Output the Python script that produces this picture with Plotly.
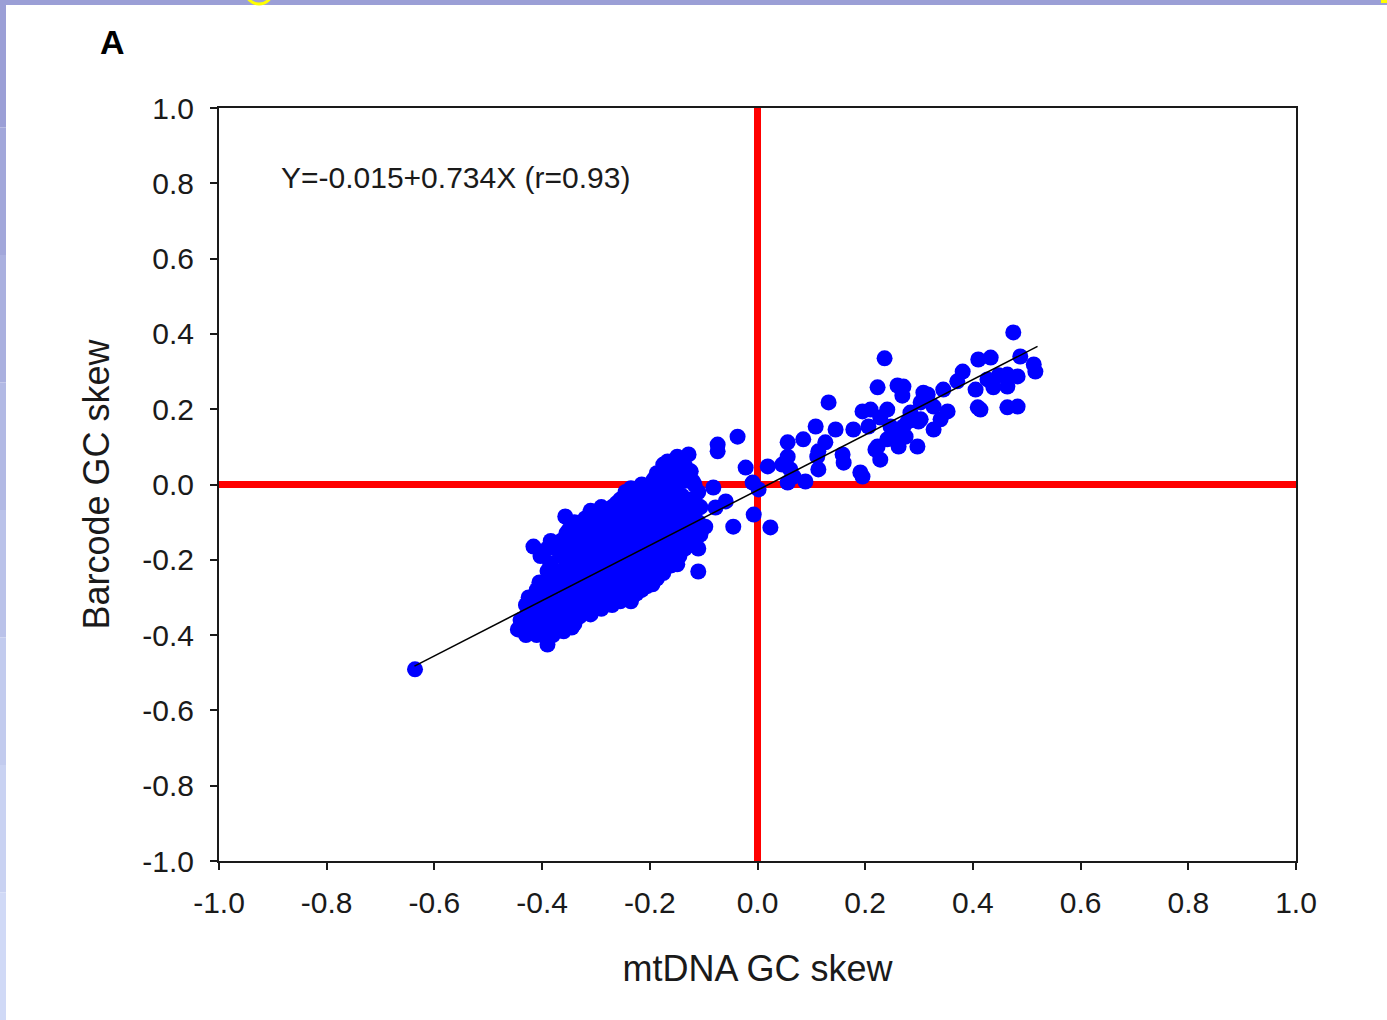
import plotly.graph_objects as go

# ---------------- data ----------------
# negative cluster (mtDNA GC skew, Barcode GC skew)
neg_x = [-0.445, -0.44,
         -0.416, -0.425, -0.42, -0.425, -0.43,
         -0.403, -0.405, -0.40, -0.40, -0.40, -0.41, -0.39,
         -0.384, -0.385, -0.38, -0.385, -0.38, -0.385, -0.38,
         -0.365, -0.365, -0.36, -0.365, -0.36, -0.365, -0.36,
         -0.357, -0.35, -0.355, -0.35, -0.345, -0.35, -0.345, -0.35, -0.345,
         -0.33, -0.33, -0.325, -0.33, -0.325, -0.33, -0.33,
         -0.31, -0.31, -0.305, -0.31, -0.31, -0.305, -0.31, -0.31,
         -0.29, -0.29, -0.29, -0.285, -0.29, -0.29, -0.285, -0.29,
         -0.27, -0.27, -0.275, -0.27, -0.27, -0.27, -0.27, -0.27,
         -0.255, -0.255, -0.25, -0.255, -0.25, -0.255, -0.25, -0.255,
         -0.235, -0.235, -0.235, -0.23, -0.235, -0.23, -0.235, -0.23, -0.235,
         -0.215, -0.215, -0.22, -0.215, -0.215, -0.21, -0.215, -0.215,
         -0.193, -0.195, -0.195, -0.20, -0.195, -0.195, -0.19, -0.195,
         -0.175, -0.18, -0.18, -0.18, -0.175, -0.18, -0.18, -0.175,
         -0.167, -0.16, -0.16, -0.16, -0.16, -0.155, -0.16, -0.16,
         -0.149, -0.145, -0.14, -0.145, -0.145, -0.14, -0.145, -0.149,
         -0.128, -0.124, -0.12, -0.125, -0.125, -0.12, -0.125,
         -0.11, -0.106, -0.11, -0.106, -0.11, -0.110, -0.097]
neg_y = [-0.385, -0.36,
         -0.165, -0.30, -0.33, -0.37, -0.40,
         -0.19, -0.26, -0.29, -0.33, -0.37, -0.40, -0.425,
         -0.15, -0.21, -0.25, -0.29, -0.33, -0.37, -0.40,
         -0.15, -0.19, -0.23, -0.27, -0.31, -0.35, -0.39,
         -0.085, -0.12, -0.16, -0.20, -0.24, -0.28, -0.32, -0.36, -0.38,
         -0.11, -0.15, -0.19, -0.23, -0.27, -0.31, -0.35,
         -0.07, -0.11, -0.15, -0.19, -0.23, -0.27, -0.31, -0.345,
         -0.06, -0.10, -0.14, -0.18, -0.22, -0.26, -0.30, -0.33,
         -0.06, -0.10, -0.14, -0.18, -0.22, -0.26, -0.30, -0.32,
         -0.04, -0.08, -0.12, -0.16, -0.20, -0.24, -0.28, -0.31,
         -0.01, -0.04, -0.08, -0.12, -0.16, -0.20, -0.24, -0.28, -0.31,
         0.00, -0.04, -0.08, -0.12, -0.16, -0.20, -0.24, -0.28,
         0.013, -0.03, -0.07, -0.11, -0.15, -0.19, -0.23, -0.265,
         0.053, 0.01, -0.03, -0.07, -0.11, -0.15, -0.19, -0.235,
         0.061, 0.02, -0.03, -0.07, -0.11, -0.15, -0.19, -0.215,
         0.074, 0.03, -0.03, -0.07, -0.11, -0.15, -0.19, -0.212,
         0.080, 0.035, 0.008, -0.04, -0.08, -0.12, -0.16,
         -0.02, -0.06, -0.10, -0.133, -0.17, -0.231, -0.112]

# further points inside the dense negative cluster
dense_x = [-0.43, -0.43, -0.43,
           -0.41, -0.41, -0.41, -0.41,
           -0.39, -0.39, -0.39, -0.39, -0.39, -0.39, -0.39,
           -0.375, -0.375, -0.375, -0.375, -0.375, -0.375,
           -0.355, -0.355, -0.355, -0.355, -0.355, -0.355, -0.355,
           -0.34, -0.34, -0.34, -0.34, -0.34, -0.34, -0.34, -0.34,
           -0.32, -0.32, -0.32, -0.32, -0.32, -0.32, -0.32,
           -0.30, -0.30, -0.30, -0.30, -0.30, -0.30, -0.30,
           -0.28, -0.28, -0.28, -0.28, -0.28, -0.28, -0.28,
           -0.262, -0.262, -0.262, -0.262, -0.262, -0.262, -0.262, -0.262,
           -0.245, -0.245, -0.245, -0.245, -0.245, -0.245, -0.245, -0.245,
           -0.225, -0.225, -0.225, -0.225, -0.225, -0.225, -0.225, -0.225,
           -0.205, -0.205, -0.205, -0.205, -0.205, -0.205, -0.205, -0.205,
           -0.187, -0.187, -0.187, -0.187, -0.187, -0.187, -0.187, -0.187,
           -0.17, -0.17, -0.17, -0.17, -0.17, -0.17, -0.17,
           -0.152, -0.152, -0.152, -0.152, -0.152, -0.152, -0.152,
           -0.135, -0.135, -0.135, -0.135, -0.135, -0.135,
           -0.117, -0.117, -0.117, -0.117, -0.117]
dense_y = [-0.32, -0.35, -0.38,
           -0.28, -0.31, -0.35, -0.39,
           -0.17, -0.23, -0.27, -0.31, -0.35, -0.39, -0.41,
           -0.17, -0.23, -0.27, -0.31, -0.35, -0.385,
           -0.13, -0.17, -0.21, -0.25, -0.29, -0.33, -0.37,
           -0.10, -0.14, -0.18, -0.22, -0.26, -0.30, -0.34, -0.37,
           -0.09, -0.13, -0.17, -0.21, -0.25, -0.29, -0.33,
           -0.08, -0.12, -0.16, -0.20, -0.24, -0.28, -0.32,
           -0.08, -0.12, -0.16, -0.20, -0.24, -0.28, -0.31,
           -0.05, -0.08, -0.12, -0.16, -0.20, -0.24, -0.28, -0.31,
           -0.02, -0.06, -0.10, -0.14, -0.18, -0.22, -0.26, -0.295,
           -0.02, -0.06, -0.10, -0.14, -0.18, -0.22, -0.26, -0.29,
           -0.01, -0.05, -0.09, -0.13, -0.17, -0.21, -0.25, -0.27,
           0.03, -0.01, -0.05, -0.09, -0.13, -0.17, -0.21, -0.25,
           0.04, -0.01, -0.05, -0.09, -0.13, -0.17, -0.21,
           0.05, 0.00, -0.05, -0.09, -0.13, -0.17, -0.20,
           0.05, 0.01, -0.05, -0.09, -0.13, -0.17,
           0.00, -0.04, -0.08, -0.12, -0.15]

# points between the clusters, around the origin, and the low outlier
mid_x = [-0.074, -0.074, -0.037, -0.022, -0.009, 0.002, 0.019, -0.082,
         -0.059, -0.078, -0.007, -0.045, 0.024, -0.636]
mid_y = [0.106, 0.088, 0.127, 0.045, 0.005, -0.013, 0.048, -0.008,
         -0.045, -0.061, -0.080, -0.112, -0.114, -0.491]

# positive cluster
pos_x = [0.475, 0.236, 0.410, 0.433, 0.488, 0.513, 0.516, 0.381, 0.464, 0.483,
         0.448, 0.427, 0.371, 0.345, 0.316, 0.271, 0.223, 0.260, 0.269, 0.308,
         0.405, 0.438, 0.464, 0.409, 0.414, 0.464, 0.483, 0.303, 0.327, 0.353,
         0.340, 0.327, 0.303, 0.284, 0.271, 0.275, 0.297, 0.132, 0.195, 0.210,
         0.241, 0.228, 0.108, 0.145, 0.178, 0.206, 0.247, 0.279, 0.299, 0.056,
         0.085, 0.126, 0.158, 0.160, 0.113, 0.113, 0.223, 0.228, 0.262, 0.191,
         0.195, 0.056, 0.046, 0.061, 0.067, 0.089, 0.056, 0.262, 0.241, 0.219,
         0.111]
pos_y = [0.404, 0.335, 0.332, 0.337, 0.340, 0.319, 0.300, 0.300, 0.292, 0.287,
         0.290, 0.279, 0.274, 0.252, 0.239, 0.260, 0.258, 0.263, 0.236, 0.244,
         0.252, 0.258, 0.260, 0.205, 0.199, 0.205, 0.207, 0.218, 0.207, 0.194,
         0.173, 0.146, 0.173, 0.191, 0.154, 0.127, 0.101, 0.218, 0.194, 0.199,
         0.199, 0.178, 0.154, 0.146, 0.146, 0.154, 0.154, 0.167, 0.167, 0.112,
         0.120, 0.112, 0.080, 0.058, 0.088, 0.040, 0.101, 0.066, 0.101, 0.032,
         0.021, 0.074, 0.053, 0.040, 0.021, 0.008, 0.005, 0.127, 0.120, 0.093,
         0.074]

# regression: Y = -0.015 + 0.734 X
fit_intercept = -0.015
fit_slope = 0.734
fit_x = [-0.637, 0.52]

axis_ticks = [-1.0, -0.8, -0.6, -0.4, -0.2, 0.0, 0.2, 0.4, 0.6, 0.8, 1.0]
tick_text = ["-1.0", "-0.8", "-0.6", "-0.4", "-0.2", "0.0", "0.2", "0.4", "0.6", "0.8", "1.0"]

# ---------------- figure ----------------
W, H = 1387, 1020
L, R, T, B = 219, 91, 108, 159
FONT = "Liberation Sans, Arial, sans-serif"

fig = go.Figure()

# red reference lines at zero
fig.add_trace(go.Scatter(x=[0, 0], y=[-1, 1], mode="lines",
                         line=dict(color="#ff0000", width=7), hoverinfo="skip"))
fig.add_trace(go.Scatter(x=[-1, 1], y=[0, 0], mode="lines",
                         line=dict(color="#ff0000", width=7), hoverinfo="skip"))

all_x = neg_x + dense_x + mid_x + pos_x
all_y = neg_y + dense_y + mid_y + pos_y
fig.add_trace(go.Scatter(x=all_x, y=all_y, mode="markers",
                         marker=dict(color="#0000ff", size=16, line=dict(width=0)),
                         cliponaxis=False))

fit_y = [fit_intercept + fit_slope * v for v in fit_x]
fig.add_trace(go.Scatter(x=fit_x, y=fit_y, mode="lines",
                         line=dict(color="#000000", width=1.5)))

axis_common = dict(
    range=[-1, 1], tickvals=axis_ticks, ticktext=tick_text,
    showgrid=False, zeroline=False, showline=True, mirror=True,
    linecolor="#1a1a1a", linewidth=2, ticks="outside", ticklen=7,
    tickwidth=1.5, tickcolor="#1a1a1a",
    tickfont=dict(family=FONT, size=30, color="#1a1a1a"),
)

fig.update_layout(
    width=W, height=H,
    margin=dict(l=L, r=R, t=T, b=B, pad=0),
    paper_bgcolor="white", plot_bgcolor="white",
    showlegend=False,
    xaxis=dict(**axis_common, ticklabelstandoff=7,
               title=dict(text="mtDNA GC skew", standoff=38,
                          font=dict(family=FONT, size=36, color="#1a1a1a"))),
    yaxis=dict(**axis_common, ticklabelstandoff=10,
               title=dict(text="Barcode GC skew", standoff=22,
                          font=dict(family=FONT, size=36, color="#1a1a1a"))),
)
fig.update_xaxes(automargin=False)
fig.update_yaxes(automargin=False)

fig.add_annotation(x=-0.888, y=0.815, xref="x", yref="y", xanchor="left",
                   yanchor="middle", showarrow=False,
                   text="Y=-0.015+0.734X (r=0.93)",
                   font=dict(family=FONT, size=30, color="#1a1a1a"))

pw, ph = W - L - R, H - T - B
def px(xp):
    return (xp - L) / pw
def py(yp):
    return (H - B - yp) / ph

fig.add_annotation(x=px(112), y=py(42), xref="paper", yref="paper",
                   xanchor="center", yanchor="middle",
                   showarrow=False, text="<b>A</b>",
                   font=dict(family=FONT, size=34, color="#000000"))

# slide frame: top strip and left gradient strip
fig.add_shape(type="rect", xref="paper", yref="paper",
              x0=px(0), x1=px(W), y0=py(0), y1=py(5),
              fillcolor="#9b9fd6", line=dict(width=0), layer="above")
left_cols = ["#9b9fd6", "#a2a7da", "#aab0df", "#b2b9e4", "#bac2e9",
             "#c2cbee", "#c9d2f2", "#d0d9f6"]
seg = H / len(left_cols)
for i, c in enumerate(left_cols):
    fig.add_shape(type="rect", xref="paper", yref="paper",
                  x0=px(0), x1=px(6), y0=py(i * seg), y1=py((i + 1) * seg),
                  fillcolor=c, line=dict(width=0), layer="above")
fig.add_shape(type="circle", xref="paper", yref="paper",
              x0=px(246), x1=px(272), y0=py(-20), y1=py(4),
              line=dict(color="#ffff00", width=3), layer="above")
fig.add_shape(type="rect", xref="paper", yref="paper",
              x0=px(1381), x1=px(W), y0=py(0), y1=py(3),
              fillcolor="#ffff00", line=dict(width=0), layer="above")

fig.write_html("out.html", config={"displayModeBar": False},
               post_script="document.body.style.margin='0';"
                           "document.body.style.overflow='hidden';")
